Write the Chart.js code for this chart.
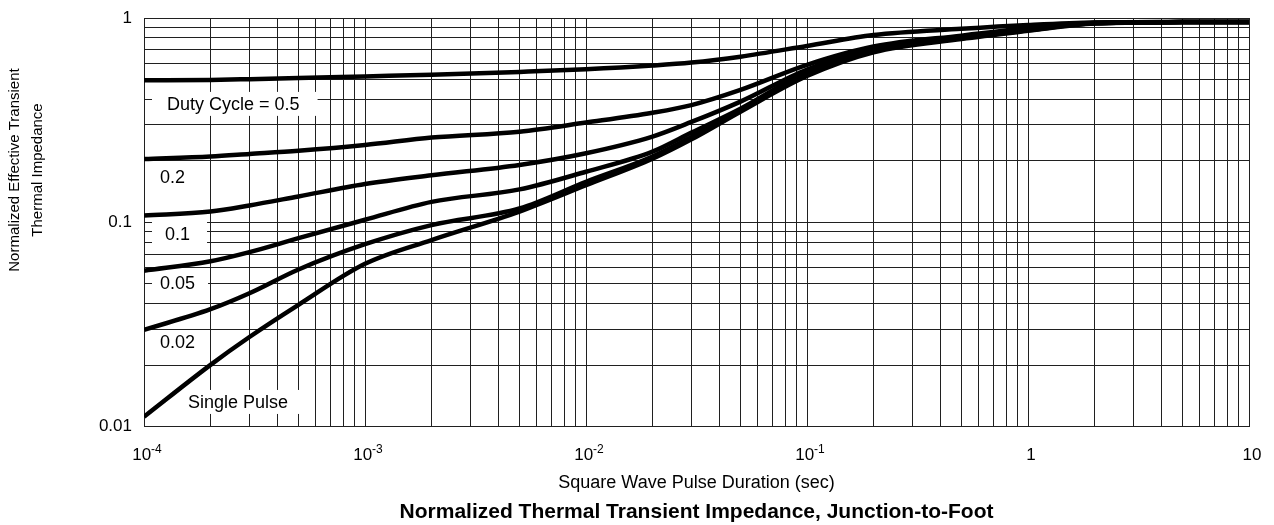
<!DOCTYPE html>
<html>
<head>
<meta charset="utf-8">
<script src="https://cdn.jsdelivr.net/npm/chart.js@4.4.1/dist/chart.umd.min.js"></script>
<style>
  html, body { margin: 0; padding: 0; background: #fff; }
</style>
</head>
<body>
<canvas id="chart" width="1274" height="525"></canvas>
<script>
// square wave pulse duration (sec), shared by all curves
const pulseTimes = [1e-4, 2e-4, 3e-4, 5e-4, 1e-3, 2e-3, 5e-3, 1e-2, 2e-2, 3e-2, 5e-2, 0.1, 0.2, 0.5, 1, 2, 5, 10];

// normalized effective transient thermal impedance, one list per duty cycle
const duty05  = [0.496, 0.498, 0.502, 0.508, 0.518, 0.528, 0.545, 0.561, 0.585, 0.605, 0.647, 0.73, 0.825, 0.885, 0.924, 0.951, 0.956, 0.956];
const duty02  = [0.204, 0.210, 0.216, 0.224, 0.239, 0.260, 0.278, 0.308, 0.344, 0.375, 0.445, 0.59, 0.725, 0.82, 0.89, 0.947, 0.955, 0.956];
const duty01  = [0.108, 0.113, 0.121, 0.134, 0.154, 0.170, 0.191, 0.218, 0.263, 0.31, 0.39, 0.56, 0.71, 0.81, 0.88, 0.945, 0.955, 0.956];
const duty005 = [0.058, 0.0645, 0.0715, 0.0837, 0.103, 0.126, 0.145, 0.177, 0.222, 0.275, 0.36, 0.545, 0.70, 0.80, 0.875, 0.944, 0.955, 0.956];
const duty002 = [0.0298, 0.0376, 0.045, 0.0588, 0.0782, 0.097, 0.117, 0.158, 0.21, 0.262, 0.355, 0.53, 0.69, 0.795, 0.87, 0.942, 0.955, 0.956];
const singlePulse = [0.0112, 0.0201, 0.0275, 0.0395, 0.0627, 0.082, 0.113, 0.152, 0.205, 0.255, 0.348, 0.52, 0.68, 0.79, 0.865, 0.94, 0.955, 0.956];

const seriesNames = ['0.5', '0.2', '0.1', '0.05', '0.02', 'Single Pulse'];
const seriesValues = [duty05, duty02, duty01, duty005, duty002, singlePulse];

// labelled decades (x labels are base + superscript exponent)
const xTickValues = [1e-4, 1e-3, 1e-2, 1e-1, 1, 10];
const xTickBase = ['10', '10', '10', '10', '1', '10'];
const xTickExp = ['-4', '-3', '-2', '-1', '', ''];
const yTickValues = [0.01, 0.1, 1];
const yTickLabels = ['0.01', '0.1', '1'];

// curve labels: text, data x of box left, data y of text middle
const curveNotes = [
  { text: 'Duty Cycle = 0.5', x: 1.087e-4, y: 0.380, padL: 15, padR: 18 },
  { text: '0.2', x: 1.087e-4, y: 0.167, padL: 8, padR: 13 },
  { text: '0.1', x: 1.087e-4, y: 0.0878, padL: 13, padR: 17 },
  { text: '0.05', x: 1.087e-4, y: 0.0505, padL: 8, padR: 13 },
  { text: '0.02', x: 1.087e-4, y: 0.0259, padL: 8, padR: 13 },
  { text: 'Single Pulse', x: 1.486e-4, y: 0.01323, padL: 6, padR: 11 }
];

const FONT = '"Liberation Sans", Arial, Helvetica, sans-serif';
const gridColor = '#202020';

function decadeTicks(min, max) {
  const ticks = [];
  for (let e = Math.round(Math.log10(min)); e < Math.round(Math.log10(max)); e++) {
    for (let m = 1; m <= 9; m++) ticks.push({ value: m * Math.pow(10, e) });
  }
  ticks.push({ value: max });
  return ticks;
}

function labelFor(values, labels, v) {
  for (let i = 0; i < values.length; i++) {
    if (Math.abs(Math.log10(v) - Math.log10(values[i])) < 1e-6) return labels[i];
  }
  return '';
}

const notesPlugin = {
  id: 'curveNotes',
  beforeDatasetsDraw(chart) {
    const ctx = chart.ctx;
    const xs = chart.scales.x, ys = chart.scales.y;
    ctx.save();
    ctx.font = '18px ' + FONT;
    ctx.textBaseline = 'middle';
    curveNotes.forEach(n => {
      const px = xs.getPixelForValue(n.x);
      const py = ys.getPixelForValue(n.y);
      const w = ctx.measureText(n.text).width + n.padL + n.padR;
      ctx.fillStyle = '#fff';
      ctx.fillRect(px, py - 12, w, 24);
      ctx.fillStyle = '#000';
      ctx.fillText(n.text, px + n.padL, py + 1);
    });
    ctx.restore();
  },
  afterDraw(chart) {
    const ctx = chart.ctx;
    const xs = chart.scales.x;
    ctx.save();
    ctx.fillStyle = '#000';
    // x tick labels with raised exponent
    ctx.textBaseline = 'alphabetic';
    xTickValues.forEach((v, i) => {
      ctx.font = '17px ' + FONT;
      const wb = ctx.measureText(xTickBase[i]).width;
      ctx.font = '12px ' + FONT;
      const we = ctx.measureText(xTickExp[i]).width;
      const left = xs.getPixelForValue(v) + 3 - (wb + we) / 2;
      ctx.font = '17px ' + FONT;
      ctx.fillText(xTickBase[i], left, 460);
      ctx.font = '12px ' + FONT;
      ctx.fillText(xTickExp[i], left + wb, 453);
    });
    // two-line y axis title
    ctx.font = '15px ' + FONT;
    ctx.textAlign = 'center';
    ctx.textBaseline = 'middle';
    ctx.translate(15, 170);
    ctx.rotate(-Math.PI / 2);
    ctx.fillText('Normalized Effective Transient', 0, 0);
    ctx.fillText('Thermal Impedance', 0, 23);
    ctx.restore();
  }
};

new Chart(document.getElementById('chart'), {
  type: 'line',
  data: {
    datasets: seriesValues.map((vals, k) => ({
      label: seriesNames[k],
      data: pulseTimes.map((t, i) => ({ x: t, y: vals[i] })),
      borderColor: '#000',
      borderWidth: 4.5,
      pointRadius: 0,
      fill: false,
      cubicInterpolationMode: 'monotone'
    }))
  },
  options: {
    responsive: false,
    animation: false,
    devicePixelRatio: 1,
    layout: { autoPadding: false, padding: { left: 0, right: 25, top: 18, bottom: 0 } },
    plugins: {
      legend: { display: false },
      tooltip: { enabled: false },
      title: {
        display: true,
        position: 'bottom',
        fullSize: false,
        text: 'Normalized Thermal Transient Impedance, Junction-to-Foot',
        color: '#000',
        font: { family: FONT, size: 21, weight: 'bold', lineHeight: 1.2 },
        padding: { top: 3, bottom: 0 }
      }
    },
    scales: {
      x: {
        type: 'logarithmic',
        min: 1e-4,
        max: 10,
        afterBuildTicks: s => { s.ticks = decadeTicks(1e-4, 10); },
        afterFit: s => { s.height = 70; },
        grid: { color: gridColor, lineWidth: 1, drawTicks: false },
        border: { color: gridColor, width: 1 },
        ticks: {
          autoSkip: false,
          maxRotation: 0,
          padding: 16,
          font: { family: FONT, size: 17 },
          callback: () => ''
        },
        title: {
          display: true,
          text: 'Square Wave Pulse Duration (sec)',
          color: '#000',
          font: { family: FONT, size: 18, lineHeight: 1.2 },
          padding: { top: 0, bottom: 3 }
        }
      },
      y: {
        type: 'logarithmic',
        min: 0.01,
        max: 1,
        afterBuildTicks: s => { s.ticks = decadeTicks(0.01, 1); },
        afterFit: s => { s.width = 144; s.paddingTop = 0; s.paddingBottom = 0; },
        grid: { color: gridColor, lineWidth: 1, drawTicks: false },
        border: { color: gridColor, width: 1 },
        ticks: {
          autoSkip: false,
          padding: 12,
          color: '#000',
          font: { family: FONT, size: 17 },
          callback: v => labelFor(yTickValues, yTickLabels, v)
        }
      }
    }
  },
  plugins: [notesPlugin]
});
</script>
</body>
</html>
